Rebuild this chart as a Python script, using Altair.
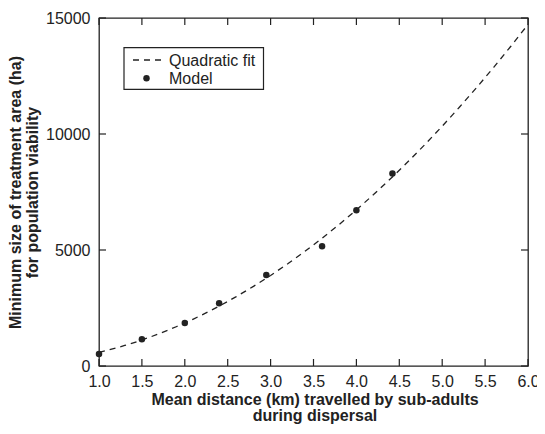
import altair as alt
import pandas as pd

# Model results
distance_km = [1.0, 1.5, 2.0, 2.4, 2.95, 3.6, 4.0, 4.42]
min_area_ha = [520, 1150, 1850, 2700, 3920, 5160, 6710, 8300]

x_ticks = [1.0, 1.5, 2.0, 2.5, 3.0, 3.5, 4.0, 4.5, 5.0, 5.5, 6.0]
y_ticks = [0, 5000, 10000, 15000]
legend_labels = ["Quadratic fit", "Model"]

x_title = ["Mean distance (km) travelled by sub-adults", "during dispersal"]
y_title = ["Minimum size of treatment area (ha)", "for population viability"]

W, H = 429, 348
INK = "#222222"
FONT = "Liberation Sans"

df = pd.DataFrame({"x": distance_km, "y": min_area_ha})
xt = pd.DataFrame({"x": x_ticks})
yt = pd.DataFrame({"y": y_ticks})

xscale = alt.Scale(domain=[1, 6], nice=False, zero=False)
yscale = alt.Scale(domain=[0, 15000], nice=False)

x_axis = alt.Axis(
    values=x_ticks, format=".1f", ticks=False, domain=False, grid=False,
    labelFont=FONT, labelFontSize=16, labelColor=INK, labelPadding=7,
    labelFlush=False,
    title=x_title, titleFont=FONT, titleFontSize=16, titleFontWeight="bold",
    titleColor=INK, titleX=W / 2 + 1, titleY=38, titleBaseline="alphabetic",
    titleLineHeight=16, titleAnchor="middle", titleAlign="center",
)
y_axis = alt.Axis(
    values=y_ticks, format="d", ticks=False, domain=False, grid=False,
    labelFont=FONT, labelFontSize=16, labelColor=INK, labelPadding=9,
    labelFlush=False,
    title=y_title, titleFont=FONT, titleFontSize=16, titleFontWeight="bold",
    titleColor=INK, titleX=-79, titleY=H / 2, titleAngle=-90,
    titleBaseline="alphabetic", titleLineHeight=17, titleAlign="center",
)

base = alt.Chart(df)

fit = base.transform_regression(
    "x", "y", method="poly", order=2, extent=[1, 6]
).mark_line(color=INK, strokeWidth=1.3, strokeDash=[6, 5], clip=True).encode(
    x=alt.X("x:Q", scale=xscale, axis=x_axis),
    y=alt.Y("y:Q", scale=yscale, axis=y_axis),
)

pts = base.mark_point(filled=True, color=INK, size=42, opacity=1).encode(
    x=alt.X("x:Q", scale=xscale),
    y=alt.Y("y:Q", scale=yscale),
)

# inward ticks on all four sides
tk = 7
xb = alt.Chart(xt).mark_rule(color=INK, strokeWidth=1.2).encode(
    x=alt.X("x:Q", scale=xscale), y=alt.value(H), y2=alt.value(H - tk))
xtp = alt.Chart(xt).mark_rule(color=INK, strokeWidth=1.2).encode(
    x=alt.X("x:Q", scale=xscale), y=alt.value(0), y2=alt.value(tk))
yl = alt.Chart(yt).mark_rule(color=INK, strokeWidth=1.2).encode(
    y=alt.Y("y:Q", scale=yscale), x=alt.value(0), x2=alt.value(tk))
yr = alt.Chart(yt).mark_rule(color=INK, strokeWidth=1.2).encode(
    y=alt.Y("y:Q", scale=yscale), x=alt.value(W), x2=alt.value(W - tk))

# legend
one = pd.DataFrame({"a": [0]})
leg_box = alt.Chart(one).mark_rect(
    fill="white", stroke=INK, strokeWidth=1.2
).encode(x=alt.value(25), x2=alt.value(164.5), y=alt.value(29.7), y2=alt.value(71.3))
leg_line = alt.Chart(one).mark_rule(
    color=INK, strokeWidth=1.3, strokeDash=[6, 5]
).encode(x=alt.value(34), x2=alt.value(62), y=alt.value(42))
leg_pt = alt.Chart(one).mark_point(
    filled=True, color=INK, size=42, opacity=1
).encode(x=alt.value(47.5), y=alt.value(60.3))
leg_t1 = alt.Chart(one).mark_text(
    font=FONT, fontSize=16, color=INK, align="left", baseline="middle"
).encode(x=alt.value(70), y=alt.value(42.5), text=alt.value(legend_labels[0]))
leg_t2 = alt.Chart(one).mark_text(
    font=FONT, fontSize=16, color=INK, align="left", baseline="middle"
).encode(x=alt.value(70), y=alt.value(60.5), text=alt.value(legend_labels[1]))

chart = alt.layer(
    fit, pts, xb, xtp, yl, yr, leg_box, leg_line, leg_pt, leg_t1, leg_t2
).properties(
    width=W, height=H,
    autosize=alt.AutoSizeParams(type="none"),
    padding={"left": 91, "top": 10, "right": 9, "bottom": 60},
    background="white",
).configure_view(stroke=INK, strokeWidth=1.3)

chart.save("out.html", embed_options={"renderer": "svg", "actions": False})
